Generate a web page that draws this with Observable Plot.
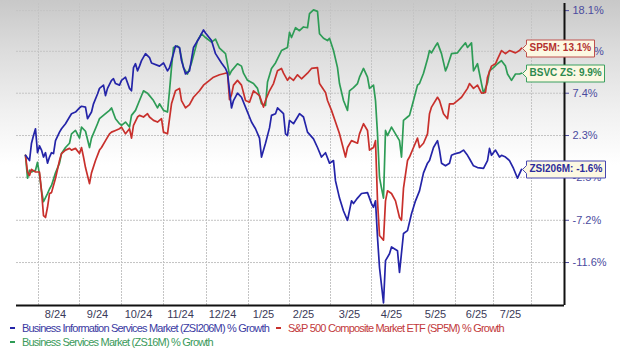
<!DOCTYPE html>
<html><head><meta charset="utf-8">
<script src="https://cdn.jsdelivr.net/npm/d3@7"></script>
<script src="https://cdn.jsdelivr.net/npm/@observablehq/plot@0.6"></script>
<style>
html,body{margin:0;padding:0;}
body{width:620px;height:354px;overflow:hidden;background:linear-gradient(to bottom,#c8c8c8 0px,#dcdcdc 50px,#f0f0f0 110px,#ffffff 165px);font-family:"Liberation Sans",Arial,sans-serif;}
#chart svg{display:block;}
.legend{position:relative;height:33px;font-size:11px;letter-spacing:-0.8px;}
.item{position:absolute;white-space:nowrap;line-height:13px;}
.sw{display:inline-block;width:5px;height:2px;vertical-align:middle;margin-right:7px;position:relative;top:-1px;}
</style></head><body>
<div id="chart"></div>
<div class="legend">
  <div class="item" id="lg0" style="left:10px;top:1px;color:#3a3aa2"><span class="sw" style="background:#2424a8"></span>Business Information Services Market (ZSI206M) % Growth</div>
  <div class="item" id="lg1" style="left:276px;top:1px;color:#c2393b"><span class="sw" style="background:#c8302c"></span>S&amp;P 500 Composite Market ETF (SP5M) % Growth</div>
  <div class="item" id="lg2" style="left:10px;top:15px;color:#3a9a5a"><span class="sw" style="background:#2e9c56"></span>Business Services Market (ZS16M) % Growth</div>
</div>
<script>
// trading-day index, % growth
const zsi206m = [[0,0],[2,-0.6],[3,1.4],[4,2.3],[5,3.1],[6,0.3],[7,1.1],[8,0.6],[9,-0.2],[10,0.3],[11,-0.9],[12,-0.2],[13,0.3],[14,0.2],[15,1.7],[17,2.7],[18,3.1],[20,3.7],[22,4.5],[23,4.9],[25,5.1],[27,5.6],[28,5.8],[30,5.7],[31,4.3],[33,5.1],[34,6.1],[36,7.3],[37,8.0],[39,8.4],[40,7.1],[41,8.0],[43,9.0],[44,9.2],[45,8.6],[47,8.4],[48,9.0],[50,9.4],[52,8.0],[53,7.7],[54,10.6],[55,11.1],[56,10.2],[57,10.8],[58,11.5],[60,12.4],[62,11.9],[63,11.2],[67,10.8],[69,11.2],[71,10.2],[72,10.6],[74,12.4],[75,13.4],[77,13.2],[78,11.5],[80,9.8],[82,10.2],[84,13.2],[87,14.5],[89,15.5],[90,15.1],[93,14.1],[95,12.4],[98,11.2],[100,10.5],[101,9.9],[103,5.6],[104,6.5],[106,7.4],[108,6.9],[110,5.7],[113,3.9],[115,3.1],[117,2.0],[118,-0.2],[120,1.4],[122,3.2],[123,4.7],[125,4.9],[126,5.6],[129,4.9],[130,2.5],[131,2.3],[132,4.1],[134,3.7],[137,4.9],[139,4.5],[141,2.7],[144,1.9],[146,0.9],[148,-0.2],[150,0.3],[152,-0.9],[154,-0.6],[155,-2.9],[157,-4.8],[159,-6.2],[161,-7.2],[163,-5.1],[164,-5.4],[166,-4.8],[168,-4.3],[171,-4.2],[173,-5.4],[174,-5.8],[175,-5.1],[176,-9.0],[177,-12.1],[179,-15.6],[180,-11.4],[182,-10.7],[183,-10.0],[186,-10.4],[187,-12.6],[189,-8.6],[191,-8.3],[193,-6.5],[195,-5.1],[197,-4.0],[199,-2.0],[201,-0.9],[202,-0.6],[204,0.9],[206,1.7],[207,0.6],[208,-0.9],[210,-1.2],[212,-0.9],[213,0],[215,0.2],[217,0.3],[219,0.6],[221,0],[222,-0.4],[224,-1.2],[226,-1.4],[229,-1.5],[231,-0.6],[232,0.8],[233,0],[235,0.6],[237,-0.2],[238,0],[240,-0.2],[242,-0.6],[244,-1.5],[246,-2.6],[248,-1.6]];
const sp5m = [[0,0],[1,-1.9],[2,-2.3],[3,-1.6],[5,-1.9],[7,-1.9],[8,-4.0],[9,-6.7],[10,-6.9],[11,-5.8],[12,-4.3],[13,-4.2],[15,-2.6],[17,-0.6],[18,0.2],[20,0.6],[22,0.8],[23,0.6],[25,0.8],[27,0.2],[28,0.9],[29,-0.2],[30,-1.4],[32,-3.2],[33,-2.0],[35,-0.6],[37,0.6],[38,0.9],[40,1.7],[42,2.5],[43,2.7],[45,2.9],[47,3.1],[48,3.3],[50,2.5],[52,3.1],[53,2.0],[54,3.5],[56,4.5],[57,4.7],[59,4.5],[61,4.9],[62,4.5],[64,4.1],[66,3.9],[68,4.3],[69,2.7],[71,2.5],[73,6.1],[75,7.7],[77,8.0],[78,6.5],[80,5.6],[82,6.0],[84,6.9],[87,7.7],[89,8.4],[92,9.0],[94,9.4],[97,9.7],[100,9.9],[101,9.9],[102,6.6],[103,7.2],[104,8.4],[106,9.0],[108,8.4],[110,6.5],[112,6.3],[114,7.7],[117,7.1],[119,5.7],[120,6.5],[122,7.7],[124,8.6],[126,10.2],[128,10.5],[129,9.9],[131,9.0],[132,9.4],[134,9.0],[136,9.7],[138,9.2],[141,9.9],[143,10.5],[146,10.6],[147,8.6],[150,7.5],[151,6.5],[153,5.3],[155,3.9],[157,2.5],[160,-0.2],[161,0.9],[163,1.7],[166,1.4],[167,2.5],[169,3.7],[171,2.9],[172,0.6],[174,0.9],[175,1.7],[176,-5.1],[177,-8.8],[179,-9.3],[180,-5.1],[181,-4.0],[183,-4.3],[185,-5.1],[187,-6.9],[188,-7.2],[189,-3.7],[191,-0.6],[192,-0.2],[194,0.9],[196,2.0],[197,0.9],[199,1.4],[201,2.5],[202,4.9],[203,5.7],[206,6.9],[207,6.5],[209,4.9],[211,4.3],[212,6.1],[214,6.1],[216,6.5],[218,6.9],[221,8.0],[222,8.6],[224,8.0],[226,8.4],[228,7.4],[230,7.5],[231,9.4],[233,10.8],[235,11.1],[236,11.7],[238,12.8],[240,12.4],[242,12.8],[245,12.5],[247,12.8],[248,13.1]];
const zs16m = [[0,0],[1,-2.6],[2,-1.7],[3,-1.9],[5,-1.7],[6,-0.8],[7,-2.2],[8,-4.0],[9,-5.2],[11,-4.3],[12,-3.8],[13,-3.4],[15,-2.0],[17,-0.9],[18,0.2],[20,0.9],[22,1.4],[23,2.5],[25,2.9],[27,2.0],[28,3.3],[30,2.8],[32,0.9],[33,2.0],[36,3.7],[37,4.3],[40,4.9],[42,5.3],[43,5.6],[45,4.3],[47,3.7],[48,3.5],[50,3.9],[52,3.3],[53,4.7],[55,5.3],[57,6.5],[59,7.7],[61,7.4],[62,7.1],[64,6.5],[66,5.6],[67,6.1],[69,5.3],[71,5.1],[72,7.7],[73,10.6],[74,13.2],[76,13.4],[77,13.1],[79,10.6],[81,9.8],[83,11.2],[86,14.1],[88,15.0],[90,14.5],[93,13.9],[95,14.3],[97,13.1],[100,12.4],[102,9.7],[103,10.2],[106,11.1],[108,10.8],[109,9.9],[111,9.0],[114,8.6],[116,8.0],[118,6.1],[120,5.9],[121,8.8],[123,10.5],[125,11.2],[128,12.8],[131,13.2],[132,15.2],[133,14.5],[135,15.8],[137,15.4],[139,15.9],[141,15.8],[142,17.7],[144,18.2],[146,18.0],[147,15.0],[149,14.4],[151,14.1],[152,14.4],[154,12.8],[156,10.6],[157,8.6],[159,6.5],[161,5.3],[162,7.7],[164,8.1],[166,8.6],[167,9.4],[169,10.5],[171,9.4],[172,8.0],[174,8.4],[175,6.5],[176,2.5],[177,-2.5],[178,-3.7],[179,-4.8],[180,2.9],[181,2.3],[183,3.3],[185,2.5],[187,1.7],[188,-0.2],[189,4.1],[191,4.5],[192,4.7],[194,6.5],[196,8.4],[197,8.6],[199,9.9],[201,11.7],[202,12.8],[203,12.5],[205,13.4],[206,13.8],[208,12.4],[210,10.2],[211,10.8],[213,12.4],[216,12.5],[218,13.2],[220,13.8],[221,13.2],[223,13.8],[224,10.2],[226,11.1],[228,8.6],[229,7.4],[231,8.7],[232,10.2],[234,10.6],[236,11.1],[238,11.5],[240,10.8],[241,9.8],[243,9.0],[245,9.8],[247,9.8],[248,9.9]];

const monthStartDays = [6.5,27,48,69,90.5,111.5,132,152.5,173,194,215,234,253];
const monthLabelDays = [15,36,56.5,77.5,98.5,119,139,162,183,205,225.5,242.5];
const monthLabels = ["8/24","9/24","10/24","11/24","12/24","1/25","2/25","3/25","4/25","5/25","6/25","7/25"];
const yTickPcts = [-11.6,-7.2,-2.5,2.3,7.4,12.7,18.1];
const yTickLabels = ["-11.6%","-7.2%","-2.5%","2.3%","7.4%","12.7%","18.1%"];
const callouts = [
  {name:"SP5M", label:"SP5M", series:sp5m, stroke:"#c0504d", text:"#b3302f"},
  {name:"ZS16M", label:"BSVC ZS", series:zs16m, stroke:"#3aa060", text:"#2e8a4e"},
  {name:"ZSI206M", label:"ZSI206M", series:zsi206m, stroke:"#4848b0", text:"#2c2c9c"}
];

const xDomain = [-4.5, 269.5];
const yDomain = [0.8414, 1.1907];
const f = p => 1 + p / 100;
const labelMap = new Map(monthLabelDays.map((d,i)=>[d, monthLabels[i]]));
const yLabelMap = new Map(yTickPcts.map((p,i)=>[f(p), yTickLabels[i]]));

const lineOpts = (color) => ({x: d=>d[0], y: d=>f(d[1]), stroke: color, strokeWidth: 1.7, strokeLinejoin:"round"});

const plot = Plot.plot({
  width: 620, height: 321,
  marginLeft: 16, marginRight: 56, marginTop: 3, marginBottom: 16,
  style: {background: "transparent", fontFamily: "'Liberation Sans', Arial, sans-serif", fontSize: "11px", overflow: "visible"},
  x: {type: "linear", domain: xDomain, axis: null},
  y: {type: "log", domain: yDomain, axis: null},
  marks: [
    Plot.gridX(monthStartDays, {stroke: "#c4c4c4", strokeOpacity: 1, strokeDasharray: "2,1"}),
    Plot.gridY(yTickPcts.map(f), {stroke: "#c4c4c4", strokeOpacity: 1, strokeDasharray: "2,1"}),
    Plot.axisX(monthLabelDays, {tickSize: 0, tickPadding: 5, tickFormat: d => labelMap.get(d), color: "#3a3a58", fontSize: 11}),
    Plot.axisY(yTickPcts.map(f), {anchor: "right", tickSize: 4, tickPadding: 4, tickFormat: d => yLabelMap.get(d), color: "#4b4b9e", fontSize: 11}),
    Plot.ruleY([yDomain[0]], {stroke: "#111", strokeWidth: 2}),
    Plot.ruleX([xDomain[1]], {stroke: "#111", strokeWidth: 2}),
    Plot.line(zs16m, lineOpts("#2e9c56")),
    Plot.line(sp5m, lineOpts("#c8302c")),
    Plot.line(zsi206m, lineOpts("#2424a8")),
    ...callouts.map(c => {
      const last = c.series[c.series.length - 1];
      return Plot.tip([last], {
        x: d => d[0], y: d => f(d[1]),
        title: d => `${c.label}: ${d[1]}%`,
        anchor: "left", dx: 1,
        fill: "#fcf8e2", stroke: c.stroke, strokeWidth: 1,
        fontSize: 10, fontWeight: "bold", fontFamily: "'Liberation Sans', Arial, sans-serif",
        textPadding: 3, pointerSize: 8, pathFilter: "none"
      });
    })
  ]
});

plot.querySelectorAll('g[aria-label="tip"]').forEach((g, i) => {
  const col = callouts[i] ? callouts[i].text : "#333";
  g.querySelectorAll("text, tspan").forEach(t => { t.setAttribute("fill", col); t.style.fill = col; });
  g.querySelectorAll("path").forEach(p => p.removeAttribute("filter"));
});

document.getElementById("chart").appendChild(plot);
</script>
</body></html>
